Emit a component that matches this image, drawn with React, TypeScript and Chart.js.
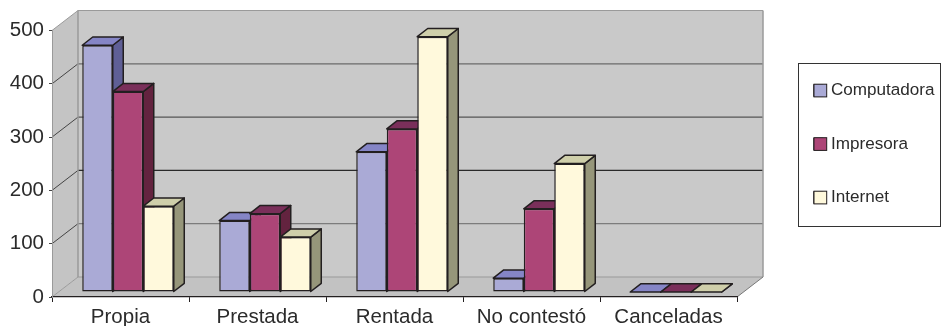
import React, { useEffect, useRef } from "react";
import { Chart, registerables } from "chart.js";

Chart.register(...registerables);

const categories = ["Propia", "Prestada", "Rentada", "No contestó", "Canceladas"];
const computadora = [463, 134, 263, 26, 0];
const impresora = [376, 147, 306, 156, 0];
const internet = [161, 103, 479, 241, 0];
const yTicks = [0, 100, 200, 300, 400, 500];

const seriesNames = ["Computadora", "Impresora", "Internet"];
const frontColors = ["#aaaad6", "#ad4577", "#fff9dc"];
const topColors = ["#8585c6", "#7a2f5a", "#cfcfaa"];
const sideColors = ["#5f5f96", "#63233f", "#96967a"];
const gridColors: Record<number, string> = {
  0: "#9a9a9a",
  100: "#7c7c7c",
  200: "#2a2a2a",
  300: "#555555",
  400: "#6a6a6a",
  500: "#9a9a9a",
};

const INK = "#231f20";
const TEXT = "#2b2b2b";
const WALL_X = 26;
const WALL_Y = 20;
const BAR_SHIFT_X = 7.5;
const BAR_SHIFT_Y = 5;
const BAR_DEPTH_X = 10.5;
const BAR_DEPTH_Y = 8.2;
const SWATCH = 12.7;

function poly(ctx: CanvasRenderingContext2D, pts: number[][], fill?: string, stroke?: string, lw = 1.5) {
  ctx.beginPath();
  pts.forEach((p, i) => (i ? ctx.lineTo(p[0], p[1]) : ctx.moveTo(p[0], p[1])));
  ctx.closePath();
  if (fill) {
    ctx.fillStyle = fill;
    ctx.fill();
  }
  if (stroke) {
    ctx.strokeStyle = stroke;
    ctx.lineWidth = lw;
    ctx.lineJoin = "round";
    ctx.stroke();
  }
}

function line(ctx: CanvasRenderingContext2D, x1: number, y1: number, x2: number, y2: number, color: string, lw: number) {
  ctx.beginPath();
  ctx.moveTo(x1, y1);
  ctx.lineTo(x2, y2);
  ctx.strokeStyle = color;
  ctx.lineWidth = lw;
  ctx.stroke();
}

const walls3d = {
  id: "walls3d",
  afterLayout(chart: any) {
    const legend = chart.legend;
    legend.left = 777.6;
    legend.right = 941;
    legend.top = 45.6;
    legend.bottom = 260;
  },
  beforeDraw(chart: any) {
    const { ctx, scales } = chart;
    const x = scales.x;
    const y = scales.y;
    const t = y.getPixelForValue(500);
    const b = y.getPixelForValue(0);
    ctx.save();
    poly(ctx, [[x.left + WALL_X, t - WALL_Y], [x.right + WALL_X, t - WALL_Y], [x.right + WALL_X, b - WALL_Y], [x.left + WALL_X, b - WALL_Y]], "#c9c9c9");
    poly(ctx, [[x.left, t], [x.left + WALL_X, t - WALL_Y], [x.left + WALL_X, b - WALL_Y], [x.left, b]], "#c4c4c4");
    poly(ctx, [[x.left, b], [x.left + WALL_X, b - WALL_Y], [x.right + WALL_X, b - WALL_Y], [x.right, b]], "#c2c2c2");
    yTicks.forEach((v) => {
      const py = y.getPixelForValue(v);
      line(ctx, x.left + WALL_X, py - WALL_Y, x.right + WALL_X, py - WALL_Y, gridColors[v], 1.2);
      line(ctx, x.left, py, x.left + WALL_X, py - WALL_Y, v === 0 || v === 500 ? "#9a9a9a" : "#444444", 1);
    });
    line(ctx, x.left + WALL_X, t - WALL_Y, x.left + WALL_X, b - WALL_Y, "#9a9a9a", 1.5);
    line(ctx, x.right + WALL_X, t - WALL_Y, x.right + WALL_X, b - WALL_Y, "#9a9a9a", 1.5);
    line(ctx, x.right, b, x.right + WALL_X, b - WALL_Y, "#777777", 1);
    ctx.strokeStyle = "#333333";
    ctx.lineWidth = 1;
    ctx.strokeRect(798.5, 63.5, 142, 163);
    ctx.restore();
  },
  beforeDatasetDraw() {
    return false;
  },
  afterDatasetsDraw(chart: any) {
    const { ctx } = chart;
    ctx.save();
    ctx.translate(BAR_SHIFT_X, -BAR_SHIFT_Y);
    chart.data.datasets.forEach((_: any, di: number) => {
      chart.getDatasetMeta(di).data.forEach((el: any) => {
        const { x, y, base, width } = el.getProps(["x", "y", "base", "width"], true);
        const l = x - width / 2;
        const r = x + width / 2;
        poly(ctx, [[r, y], [r + BAR_DEPTH_X, y - BAR_DEPTH_Y], [r + BAR_DEPTH_X, base - BAR_DEPTH_Y], [r, base]], sideColors[di], INK);
        poly(ctx, [[l, y], [r, y], [r + BAR_DEPTH_X, y - BAR_DEPTH_Y], [l + BAR_DEPTH_X, y - BAR_DEPTH_Y]], topColors[di], INK);
        if (base - y > 1) el.draw(ctx);
      });
    });
    ctx.restore();
  },
  afterDraw(chart: any) {
    // full-size legend swatches over the narrow native boxes, keeping the text close to them
    const { ctx, legend } = chart;
    ctx.save();
    legend.legendHitBoxes.forEach((h: any, i: number) => {
      ctx.fillStyle = frontColors[i];
      ctx.strokeStyle = INK;
      ctx.lineWidth = 1;
      ctx.fillRect(h.left, h.top + h.height / 2 - SWATCH / 2, SWATCH, SWATCH);
      ctx.strokeRect(h.left, h.top + h.height / 2 - SWATCH / 2, SWATCH, SWATCH);
    });
    ctx.restore();
  },
};

function makeDataset(i: number, data: number[]) {
  return {
    label: seriesNames[i],
    data,
    backgroundColor: frontColors[i],
    borderColor: INK,
    borderWidth: 1.5,
    borderSkipped: false,
    categoryPercentage: 0.668,
    barPercentage: 1,
  };
}

export default function App() {
  const ref = useRef<HTMLCanvasElement | null>(null);

  useEffect(() => {
    const chart = new Chart(ref.current as HTMLCanvasElement, {
      type: "bar",
      data: {
        labels: categories,
        datasets: [makeDataset(0, computadora), makeDataset(1, impresora), makeDataset(2, internet)],
      },
      plugins: [walls3d],
      options: {
        responsive: false,
        animation: false,
        layout: { padding: { top: 30.5, right: 204, left: 0, bottom: 0 } },
        plugins: {
          tooltip: { enabled: false },
          title: { display: false },
          legend: {
            position: "chartArea",
            align: "start",
            labels: {
              boxWidth: 8.45,
              boxHeight: 11,
              padding: 36.4,
              color: TEXT,
              font: { family: "'Liberation Sans', Arial, sans-serif", size: 17.1 },
            },
          },
        },
        scales: {
          x: {
            offset: true,
            afterFit(scale: any) {
              scale.height = 29;
            },
            border: { display: true, color: INK, width: 1.2 },
            grid: { display: true, drawOnChartArea: false, drawTicks: true, tickLength: 5, color: INK, lineWidth: 1, offset: true },
            ticks: {
              color: TEXT,
              padding: 3,
              maxRotation: 0,
              autoSkip: false,
              font: { family: "'Liberation Sans', Arial, sans-serif", size: 20.5 },
            },
          },
          y: {
            min: 0,
            max: 500,
            afterFit(scale: any) {
              scale.width = 52;
            },
            afterBuildTicks(scale: any) {
              scale.ticks = yTicks.map((value) => ({ value }));
            },
            border: { display: true, color: "#9a9a9a", width: 1 },
            grid: { display: true, drawOnChartArea: false, drawTicks: true, tickLength: 3, color: "#444444", lineWidth: 1 },
            ticks: {
              color: TEXT,
              padding: 5,
              font: { family: "'Liberation Sans', Arial, sans-serif", size: 20.5 },
            },
          },
        },
      },
    } as any);
    return () => chart.destroy();
  }, []);

  return (
    <div style={{ position: "absolute", left: 0, top: 0, width: 941, height: 326, background: "#ffffff" }}>
      <canvas ref={ref} width={941} height={326} style={{ display: "block" }} />
    </div>
  );
}
